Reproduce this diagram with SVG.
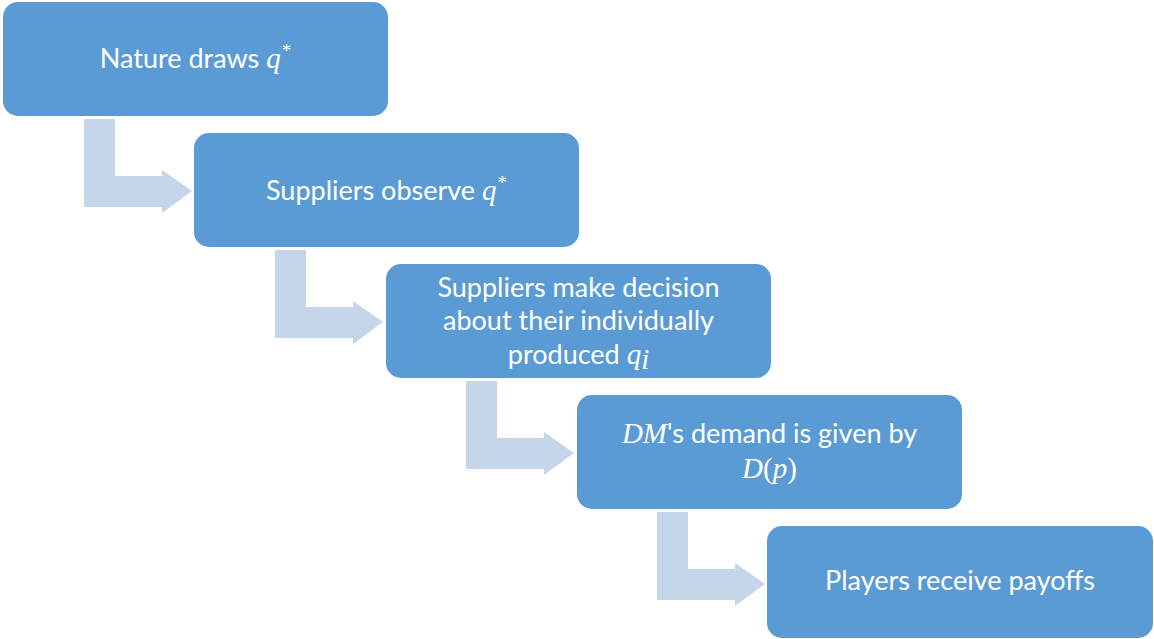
<svg xmlns="http://www.w3.org/2000/svg" width="1154" height="639" viewBox="0 0 1154 639">
<defs>
<style>
.box{fill:#5B9BD5;}
.arr{fill:#C5D5EA;}
.t{font-family:Lato,"Liberation Sans",sans-serif;font-size:27px;fill:#FFFFFF;text-anchor:middle;}
.m{font-family:"Liberation Serif",serif;font-style:italic;font-size:29px;}
.up{font-family:"Liberation Serif",serif;font-style:normal;font-size:29px;}
.sup{font-family:"Liberation Serif",serif;font-size:19px;}
</style>
<path id="bent" d="M0,0 H31 V57 H78 V51 L108,72 L78,94 V88 H0 Z"/>
</defs>
<rect width="1154" height="639" fill="#FFFFFF"/>
<g id="connectors">
<use href="#bent" class="arr" x="84" y="119"/>
<use href="#bent" class="arr" x="275" y="250"/>
<use href="#bent" class="arr" x="466" y="381"/>
<use href="#bent" class="arr" x="657" y="512"/>
</g>
<g id="n1">
<rect class="box" x="3" y="2" width="385" height="114" rx="15"/>
<text class="t" x="195.5" y="68">Nature draws <tspan class="m">q</tspan><tspan class="sup" dx="1" dy="-11">*</tspan></text>
</g>
<g id="n2">
<rect class="box" x="194" y="133" width="385" height="114" rx="15"/>
<text class="t" x="386.5" y="200">Suppliers observe <tspan class="m">q</tspan><tspan class="sup" dx="1" dy="-11">*</tspan></text>
</g>
<g id="n3">
<rect class="box" x="386" y="264" width="385" height="114" rx="15"/>
<text class="t" x="578.5" y="297">Suppliers make decision</text>
<text class="t" x="578.5" y="330">about their individually</text>
<text class="t" x="578.5" y="364">produced <tspan class="m">q</tspan><tspan class="m" font-size="20" dy="5">i</tspan></text>
</g>
<g id="n4">
<rect class="box" x="577" y="395" width="385" height="114" rx="15"/>
<text class="t" x="769.5" y="443"><tspan class="m">DM</tspan>'s demand is given by</text>
<text class="t" x="769.5" y="478"><tspan class="m">D</tspan><tspan class="up">(</tspan><tspan class="m">p</tspan><tspan class="up">)</tspan></text>
</g>
<g id="n5">
<rect class="box" x="767" y="526" width="386" height="112" rx="15"/>
<text class="t" x="960" y="590">Players receive payoffs</text>
</g>
</svg>
